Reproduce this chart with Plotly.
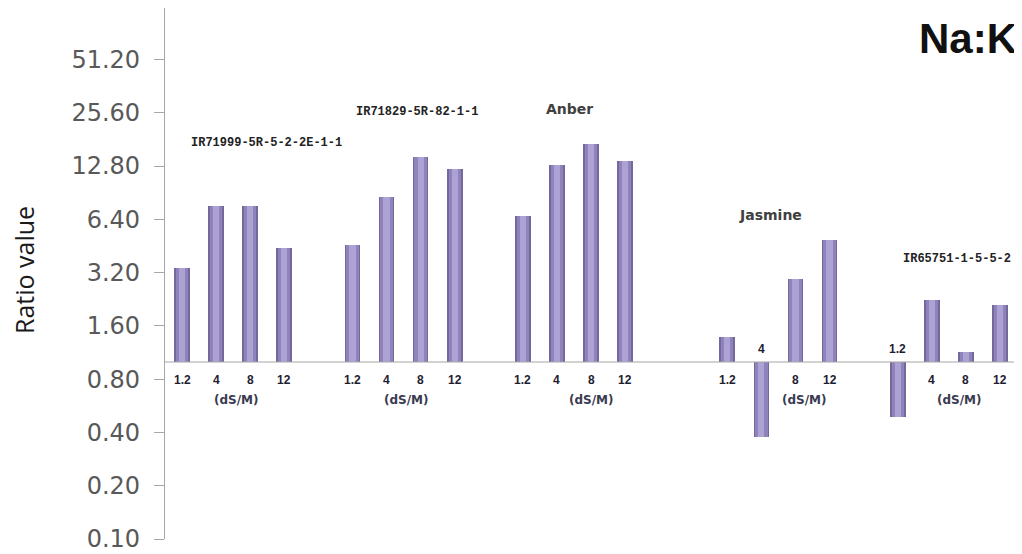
import math
import plotly.graph_objects as go

# ---- data ----
genotypes = ["IR71999-5R-5-2-2E-1-1", "IR71829-5R-82-1-1", "Anber", "Jasmine", "IR65751-1-5-5-2"]
salinity = ["1.2", "4", "8", "12"]
ir71999 = [3.40, 7.60, 7.60, 4.40]
ir71829 = [4.60, 8.60, 14.40, 12.30]
anber = [6.70, 13.00, 17.10, 13.70]
jasmine = [1.39, 0.375, 2.96, 4.90]
ir65751 = [0.49, 2.25, 1.14, 2.10]
series = [ir71999, ir71829, anber, jasmine, ir65751]
y_ticks = [0.1 * 2 ** k for k in range(10)]
y_tick_labels = [f"{v:.2f}" for v in y_ticks]

# ---- layout constants ----
group_start = [0, 5, 10, 16, 21]
unit_offset = [1.6, 1.6, 2.0, 2.25, 1.8]
title_pos = [(2.49, 0.745), (6.88, 0.805), (11.36, 0.810), (17.28, 0.610), (22.75, 0.528)]
title_font = [
    dict(family="Liberation Mono", size=12, color="#222222"),
    dict(family="Liberation Mono", size=12, color="#222222"),
    dict(family="DejaVu Sans", size=14, color="#404040"),
    dict(family="DejaVu Sans", size=14, color="#404040"),
    dict(family="Liberation Mono", size=12, color="#222222"),
]
BASE = 1.0
TOP, BOTTOM = 8, 539        # plot-area top/bottom in window px
PLOT_W = 852.0              # plot-area width in px
PLOT_H = float(BOTTOM - TOP)

xs, vals = [], []
for g, s in enumerate(series):
    for j, v in enumerate(s):
        xs.append(group_start[g] + j)
        vals.append(v)
bases = [BASE] * len(vals)
sizes = [v - BASE for v in vals]

fig = go.Figure()
# cylinder-like shading: layered bars
for w, col in [(0.46, "#74679b"), (0.36, "#9083bb"), (0.18, "#ada2d4")]:
    fig.add_trace(go.Bar(x=xs, y=sizes, base=bases, width=w,
                         marker=dict(color=col, line=dict(width=0)),
                         hoverinfo="skip", showlegend=False))

# baseline at ratio 1
fig.add_trace(go.Scatter(x=[-0.5, 24.5], y=[BASE, BASE], mode="lines",
                         line=dict(color="#a6a6a6", width=1.2),
                         hoverinfo="skip", showlegend=False))

ann = []
lab_font = dict(family="Liberation Sans", size=12, color="#1e1e30")
for g, s in enumerate(series):
    for j, v in enumerate(s):
        ann.append(dict(x=group_start[g] + j, y=math.log10(BASE), xref="x", yref="y",
                        text=f"<b>{salinity[j]}</b>", showarrow=False, font=lab_font,
                        xanchor="center", yanchor="middle",
                        yshift=(13 if v < BASE else -18)))
    ann.append(dict(x=group_start[g] + unit_offset[g], y=math.log10(BASE), xref="x", yref="y",
                    text="<b>(dS/M)</b>", showarrow=False, yshift=-38,
                    xanchor="center", yanchor="middle",
                    font=dict(family="DejaVu Sans", size=12, color="#3a3a50")))
    tx, ty = title_pos[g]
    ann.append(dict(x=tx, y=ty, xref="x", yref="paper", text=f"<b>{genotypes[g]}</b>",
                    xanchor="center", yanchor="middle",
                    showarrow=False, font=title_font[g]))

ann.append(dict(x=(968 - 165) / PLOT_W, y=(BOTTOM - 38) / PLOT_H, xref="paper", yref="paper",
                text="<b>Na:K</b>", xanchor="center", yanchor="middle", showarrow=False,
                font=dict(family="Liberation Sans", size=42, color="#111111")))
ann.append(dict(x=(24 - 165) / PLOT_W, y=(BOTTOM - 270) / PLOT_H, xref="paper", yref="paper",
                text="Ratio value", textangle=-90, showarrow=False,
                xanchor="center", yanchor="middle",
                font=dict(family="Open Sans", size=25, color="#1a1a1a")))

# the page body has an 8px margin: size the figure so the plot area lands where intended
fig.update_layout(
    width=1014, height=546,
    margin=dict(l=157, r=5, t=TOP - 8, b=554 - BOTTOM),
    paper_bgcolor="white", plot_bgcolor="white",
    barmode="overlay", bargap=0,
    annotations=ann,
    xaxis=dict(range=[-0.5, 24.5], visible=False, fixedrange=True),
    yaxis=dict(type="log", range=[-1, 2.0], tickvals=y_ticks, ticktext=y_tick_labels,
               ticks="outside", ticklen=10, tickcolor="#a6a6a6", tickwidth=1.2,
               showline=True, linecolor="#a6a6a6", linewidth=1.2, showgrid=False,
               zeroline=False, ticklabelstandoff=9, automargin=False,
               ticklabeloverflow="allow",
               tickfont=dict(family="DejaVu Sans", size=24, color="#595959")),
)
fig.write_html("out.html")
